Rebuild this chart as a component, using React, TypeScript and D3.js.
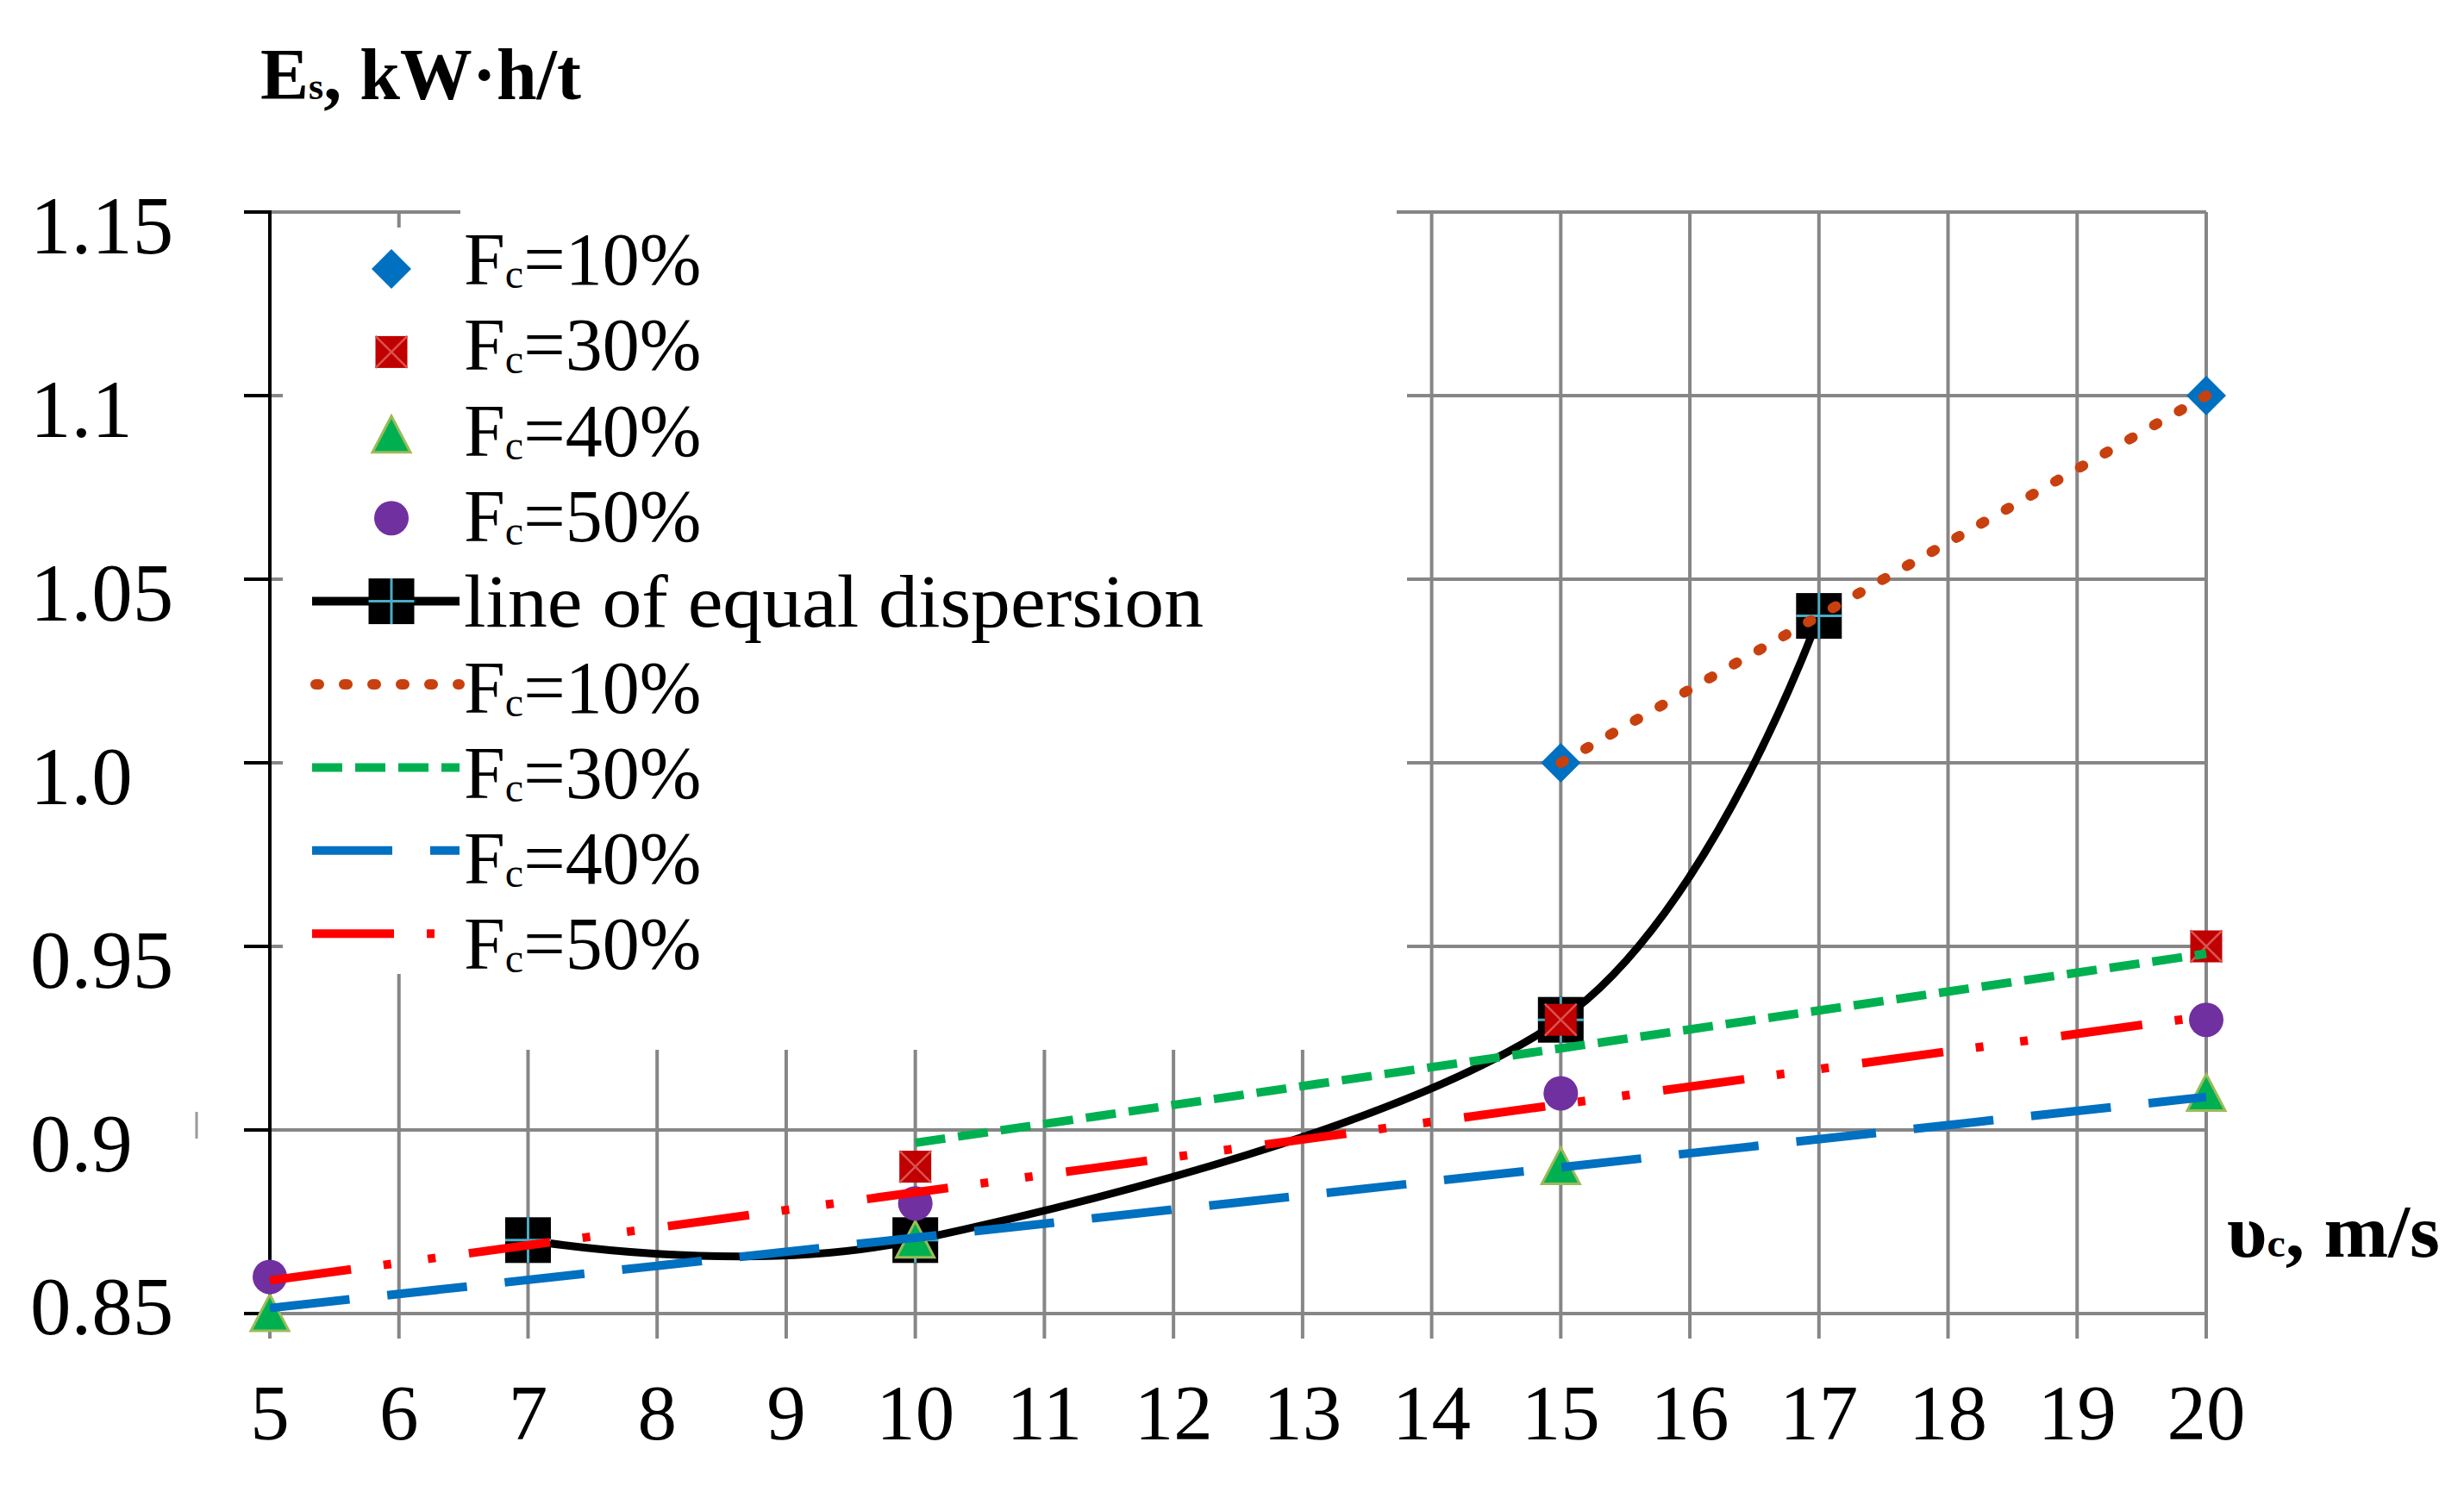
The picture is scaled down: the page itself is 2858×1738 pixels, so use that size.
import React from 'react';
import * as d3 from 'd3';

const W = 2858;
const H = 1738;

// ---- data ----
const xTicks = [5, 6, 7, 8, 9, 10, 11, 12, 13, 14, 15, 16, 17, 18, 19, 20];
const yTicks = [0.85, 0.9, 0.95, 1.0, 1.05, 1.1, 1.15];
const yTickLabels = ['0.85', '0.9', '0.95', '1.0', '1.05', '1.1', '1.15'];

const fc10X = [15, 20];
const fc10Y = [1.0, 1.1];
const fc30X = [10, 15, 20];
const fc30Y = [0.89, 0.93, 0.95];
const fc40X = [5, 10, 15, 20];
const fc40Y = [0.85, 0.87, 0.89, 0.91];
const fc50X = [5, 10, 15, 20];
const fc50Y = [0.86, 0.88, 0.91, 0.93];
const equalX = [7, 10, 15, 17];
const equalY = [0.87, 0.87, 0.93, 1.04];

// trend lines (start / end)
const trend10X = [15, 20];
const trend10Y = [1.0, 1.1];
const trend30X = [10, 20];
const trend30Y = [0.8965, 0.948];
const trend40X = [5, 20];
const trend40Y = [0.8515, 0.909];
const trend50X = [5, 20];
const trend50Y = [0.859, 0.931];

const legendKinds = ['diamond', 'square', 'triangle', 'circle', 'equal', 't10', 't30', 't40', 't50'];
const legendLabels = ['=10%', '=30%', '=40%', '=50%', 'line of equal dispersion', '=10%', '=30%', '=40%', '=50%'];

// ---- styles ----
const GRID = '#868686';
const FONT = "'Liberation Serif', 'Times New Roman', serif";
const C_BLUE = '#0070C0';
const C_RED = '#C00000';
const C_GREEN = '#00B050';
const C_PURPLE = '#7030A0';
const C_DOT = '#C8400E';

const x = d3.scaleLinear().domain([5, 20]).range([313, 2559]);
const y = d3.scaleLinear().domain([0.85, 1.15]).range([1524, 246]);

const trendStyles: Record<string, any> = {
  t10: { stroke: C_DOT, width: 12, dash: '4 29', cap: 'round' },
  t30: { stroke: C_GREEN, width: 10, dash: '35 15', cap: 'butt' },
  t40: { stroke: C_BLUE, width: 10, dash: '93 44', cap: 'butt' },
  t50: { stroke: '#FF0000', width: 10, dash: '95 38 9 43 9 39', cap: 'butt' },
};

function Marker({ kind, cx, cy }: { kind: string; cx: number; cy: number }) {
  if (kind === 'diamond') {
    return <path d={`M${cx},${cy - 23}L${cx + 23},${cy}L${cx},${cy + 23}L${cx - 23},${cy}Z`} fill={C_BLUE} />;
  }
  if (kind === 'square') {
    const s = 18.5;
    return (
      <g>
        <rect x={cx - s} y={cy - s} width={2 * s} height={2 * s} fill={C_RED} />
        <path d={`M${cx - s},${cy - s}L${cx + s},${cy + s}M${cx + s},${cy - s}L${cx - s},${cy + s}`} stroke="#D9534F" strokeWidth={2.5} />
      </g>
    );
  }
  if (kind === 'triangle') {
    return <path d={`M${cx},${cy - 22}L${cx + 22},${cy + 20}L${cx - 22},${cy + 20}Z`} fill={C_GREEN} stroke="#9BBB59" strokeWidth={3} />;
  }
  if (kind === 'circle') {
    return <circle cx={cx} cy={cy} r={20} fill={C_PURPLE} />;
  }
  // black square with cyan plus
  const s = 26.5;
  return (
    <g>
      <rect x={cx - s} y={cy - s} width={2 * s} height={2 * s} fill="#000" />
      <path d={`M${cx - s},${cy}L${cx + s},${cy}M${cx},${cy - s}L${cx},${cy + s}`} stroke="#4BACC6" strokeWidth={3} />
    </g>
  );
}

function Trend({ kind, xs, ys }: { kind: string; xs: number[]; ys: number[] }) {
  const st = trendStyles[kind];
  return (
    <line
      x1={x(xs[0])}
      y1={y(ys[0])}
      x2={x(xs[1])}
      y2={y(ys[1])}
      stroke={st.stroke}
      strokeWidth={st.width}
      strokeDasharray={st.dash}
      strokeLinecap={st.cap}
    />
  );
}

export default function App() {
  const equalPts: [number, number][] = equalX.map((v, i) => [x(v), y(equalY[i])]);
  const curve = d3.line().curve(d3.curveCardinal.tension(0))(equalPts) || '';

  const x0 = x(5);
  const x1 = x(20);
  const yTop = y(1.15);
  const yBot = y(0.85);

  const legendMarkerY = (i: number) => 312 + i * 96.4;
  const legendTextY = (i: number) => 330 + i * 99.3;

  return (
    <svg width={W} height={H} style={{ position: 'absolute', left: 0, top: 0, background: '#fff' }}>
      <rect x={0} y={0} width={W} height={H} fill="#fff" />

      {/* vertical grid lines + ticks */}
      {xTicks.map((t) => (
        <line key={'vx' + t} x1={x(t)} x2={x(t)} y1={t === 5 ? yBot : yTop} y2={yBot + 29} stroke={GRID} strokeWidth={4} />
      ))}
      {/* horizontal grid lines */}
      {yTicks.map((t) => (
        <line key={'hy' + t} x1={x0} x2={x1} y1={y(t)} y2={y(t)} stroke={GRID} strokeWidth={4} />
      ))}

      {/* legend white background covering the grid */}
      <rect x={328} y={264} width={1632 - 328} height={1130 - 264} fill="#fff" />
      <rect x={540} y={1128} width={1632 - 540} height={1218 - 1128} fill="#fff" />
      <rect x={534} y={236} width={1620 - 534} height={30} fill="#fff" />

      {/* y axis (black) with ticks */}
      <line x1={x0} x2={x0} y1={yTop - 2} y2={yBot} stroke="#000" strokeWidth={4} />
      {yTicks.map((t) => (
        <line key={'ty' + t} x1={283} x2={x0} y1={y(t)} y2={y(t)} stroke="#000" strokeWidth={4} />
      ))}
      <line x1={228} x2={228} y1={1290} y2={1321} stroke="#999" strokeWidth={3} />

      {/* tick labels */}
      {yTicks.map((t, i) => (
        <text key={'ly' + t} x={35} y={y(t) + (t === 0.85 ? 24 : 48)} fontFamily={FONT} fontSize={95} fill="#000">
          {yTickLabels[i]}
        </text>
      ))}
      {xTicks.map((t) => (
        <text key={'lx' + t} x={x(t)} y={1670} fontFamily={FONT} fontSize={91} textAnchor="middle" fill="#000">
          {t}
        </text>
      ))}

      {/* axis titles */}
      <text x={302} y={115} fontFamily={FONT} fontWeight="bold" fontSize={84} fill="#000">
        E<tspan fontSize={44}>s</tspan>
        <tspan>, kW·h/t</tspan>
      </text>
      <text x={2583} y={1458} fontFamily={FONT} fontWeight="bold" fontSize={86} fill="#000" textLength={247} lengthAdjust="spacingAndGlyphs">
        υ<tspan fontSize={46}>c</tspan>
        <tspan>, m/s</tspan>
      </text>

      {/* legend */}
      {legendKinds.map((k, i) => {
        const my = legendMarkerY(i);
        let sample: any = null;
        if (k === 'diamond' || k === 'square' || k === 'triangle' || k === 'circle') {
          sample = <Marker kind={k} cx={454} cy={my} />;
        } else if (k === 'equal') {
          sample = (
            <g>
              <line x1={362} x2={533} y1={my} y2={my} stroke="#000" strokeWidth={10} />
              <Marker kind="equal" cx={454} cy={my} />
            </g>
          );
        } else {
          const st = trendStyles[k];
          sample = (
            <line x1={k === 't10' ? 366 : 362} x2={533} y1={my} y2={my} stroke={st.stroke} strokeWidth={st.width} strokeDasharray={st.dash} strokeLinecap={st.cap} />
          );
        }
        const label = legendLabels[i];
        return (
          <g key={'lg' + i}>
            {sample}
            {k === 'equal' ? (
              <text x={538} y={legendTextY(i)} fontFamily={FONT} fontSize={86} fill="#000" textLength={858} lengthAdjust="spacingAndGlyphs">
                {label}
              </text>
            ) : (
              <text x={538} y={legendTextY(i)} fontFamily={FONT} fontSize={86} fill="#000">
                F<tspan fontSize={48} dy={4}>c</tspan>
                <tspan dy={-4}>{label}</tspan>
              </text>
            )}
          </g>
        );
      })}

      {/* line of equal dispersion */}
      <path d={curve} fill="none" stroke="#000" strokeWidth={9} />
      {equalPts.map((p, i) => (
        <Marker key={'eq' + i} kind="equal" cx={p[0]} cy={p[1]} />
      ))}

      {/* scatter series */}
      {fc10X.map((v, i) => (
        <Marker key={'a' + i} kind="diamond" cx={x(v)} cy={y(fc10Y[i])} />
      ))}
      {fc30X.map((v, i) => (
        <Marker key={'b' + i} kind="square" cx={x(v)} cy={y(fc30Y[i])} />
      ))}
      {fc40X.map((v, i) => (
        <Marker key={'c' + i} kind="triangle" cx={x(v)} cy={y(fc40Y[i])} />
      ))}
      {fc50X.map((v, i) => (
        <Marker key={'d' + i} kind="circle" cx={x(v)} cy={y(fc50Y[i])} />
      ))}

      {/* trend lines */}
      <Trend kind="t10" xs={trend10X} ys={trend10Y} />
      <Trend kind="t30" xs={trend30X} ys={trend30Y} />
      <Trend kind="t40" xs={trend40X} ys={trend40Y} />
      <Trend kind="t50" xs={trend50X} ys={trend50Y} />
    </svg>
  );
}
